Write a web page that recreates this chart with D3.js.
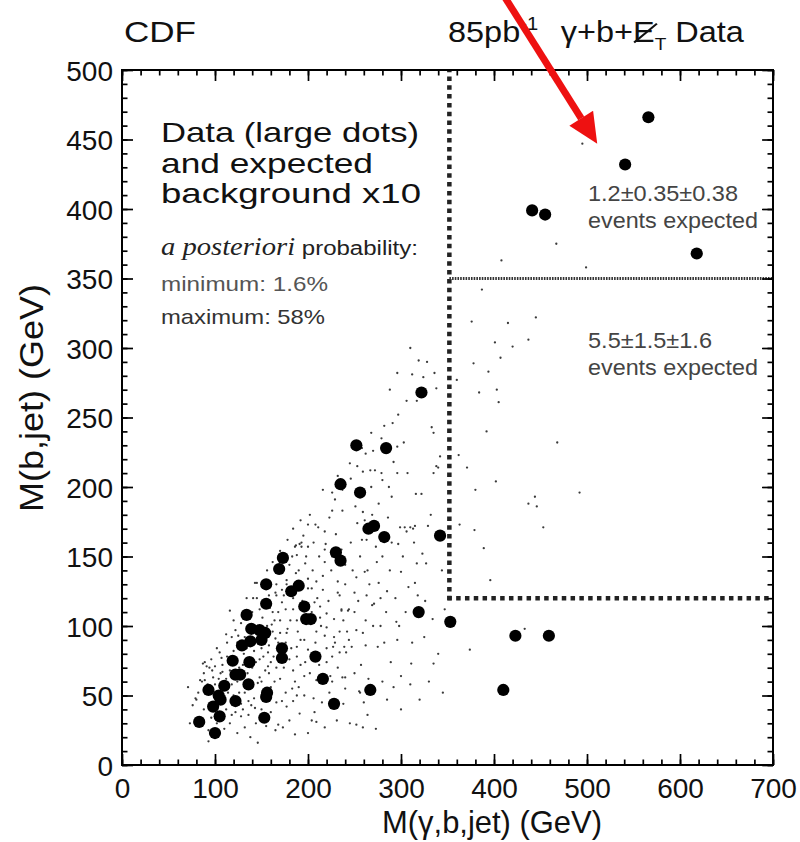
<!DOCTYPE html>
<html>
<head>
<meta charset="utf-8">
<script src="https://cdn.jsdelivr.net/npm/d3@7"></script>
<style>
  body { margin: 0; background: #fff; }
  text { font-family: "Liberation Sans", Arial, Helvetica, sans-serif; }
</style>
</head>
<body>
<script>
(function(){

//data: large dots [M(gamma,b,jet), M(b,jet)] in GeV
var dataPts = [
  [83,31],[93,54],[98,42],[100,23],[104,50],[105,35],[106,47],[110,57],[119,75],[122,65],
  [122,46],[127,65],[129,86],[134,108],[136,58],[137,74],[138,89],[139,98],[148,97],[150,90],
  [153,34],[154,95],[155,130],[155,116],[155,49],[156,52],[169,141],[173,149],[172,84],[172,77],
  [182,125],[190,129],[196,114],[198,105],[203,105],[208,78],[216,62],[228,44],[230,153],[235,147],
  [235,202],[252,230],[256,196],[265,170],[271,172],[282,164],[284,228],[319,110],[322,268],[342,165],
  [353,103],[410,54],[423,93],[459,93],[267,54],[441,399],[455,396],[541,432],[566,466],[618,368]
];

//expected background x10 (small dots)
var bgPts = [
  [495,447],[467,375],[408,363],[499,358],[387,342],[376,319],[415,318],[445,322],[401,304],[420,301],
  [437,306],[407,293],[378,289],[394,283],[360,277],[384,268],[403,270],[405,261],[392,240],[371,214],
  [402,204],[380,198],[492,196],[444,193],[437,188],[446,186],[453,171],[389,156],[396,133],[363,173],
  [379,169],[433,98],[374,83],[468,232],[362,223],
  [297,252],[291,246],[333,243],[335,239],[268,239],[279,235],[303,232],[296,229],[342,222],[262,224],
  [292,218],[253,215],[259,211],[267,212],[272,212],[279,210],[296,210],[307,210],[340,214],[335,210],
  [280,205],[287,200],[290,193],[316,195],[322,195],[251,186],[259,182],[269,180],[253,174],[261,176],
  [313,170],[306,168],[329,172],[297,159],[323,152],[317,145],[327,145],[276,131],[300,139],[261,139],
  [315,131],[252,135],[271,116],[318,122],[244,112],[236,112],[334,105],[347,112],[295,103],[234,96],
  [242,96],[252,97],[259,95],[227,85],[239,85],[247,85],[234,81],[241,81],[257,72],[289,74],
  [311,73],[335,73],[240,63],[285,47],[320,47],[260,45],[252,29],[273,26],[255,53],
  [319,291],[328,290],[312,281],[324,279],[336,282],[338,271],[317,262],[245,217],[232,208],[216,198],
  [226,196],[237,198],[229,191],[226,183],[237,183],[202,180],[211,171],[223,178],[200,173],[218,168],
  [263,162],[273,157],[299,171],[304,171],[310,171],[315,172],[338,215],[187,158],[193,157],[200,157],
  [193,160],[183,150],[218,155],[236,155],
  [208,173],[195,165],[186,157],[191,159],[219,159],[188,151],[197,145],[218,146],[187,138],[177,133],
  [200,134],[209,132],[145,131],[165,124],[204,127],[216,126],[141,120],[159,113],[172,117],[184,112],
  [181,104],[213,114],[116,111],[151,106],[164,104],[194,103],[213,106],[220,99],[141,100],[174,122],
  [143,131],[166,122],[172,126],[177,130],[200,127],[232,124],[250,124],[263,122],[234,122],[207,117],
  [145,120],[120,104],[168,110],[220,109],[236,111],[243,111],[269,115],[122,97],[125,93],[161,101],
  [170,95],[177,95],[165,91],[189,96],[209,96],[218,93],[113,88],[124,88],[157,81],[188,85],
  [200,83],[220,84],[229,88],[105,81],[107,77],[113,78],[148,76],[157,71],[188,78],[197,74],
  [220,74],[226,78],[89,74],[94,70],[100,71],[98,63],[108,67],[148,63],[84,61],[89,61],
  [146,59],[183,55],[188,50],[209,61],[223,52],[237,63],[256,52],[71,56],[79,48],[132,52],
  [139,43],[143,41],[166,45],[177,42],[191,37],[207,38],[209,31],[231,32],[245,30],[259,27],
  [73,30],[93,25],[116,30],[124,23],[132,27],[165,25],[168,29],[173,27],[204,32],[93,17],
  [146,16],[186,22],[200,23],[218,27],[76,43],[87,73],[91,71],[97,68],[86,60],[80,47],
  [112,62],[118,58],[126,70],[131,80],[135,66],[142,82],[146,88],[152,78],[158,86],[162,96],
  [166,70],[170,62],[176,88],[180,76],[184,68],[192,90],[196,64],[118,92],[128,102],[134,120],
  [148,112],[156,140],[162,146],[170,154],[178,162],[184,170],[192,176],[100,58],[106,66],[112,40],
  [118,36],[128,44],[136,36],[150,40],[160,56],[176,52],[184,46],[102,30],[110,26],[128,35],
  [150,60],[140,70],[158,66],[163,78],[145,94],[130,110],[205,140],[212,150],[225,140],[232,132],
  [240,144],[246,160],[256,150],[264,140],[280,150],[290,160],[286,178],[276,188],[268,200],[246,206],
  [258,228],[270,226],[282,244],[306,262],[288,270],[296,282],[310,300],[250,110],[262,104],[278,100],
  [282,88],[296,90],[300,64],[292,56],[312,88],[325,92],[340,80],[305,110],[285,125],[228,105],
  [232,70],[240,55],[265,62],[275,85],[215,45],[196,50],[155,28],[138,20],[180,32],[120,50],[97,52],
  [88,66],[92,58],[96,76],[102,84],[104,62],[108,72],[112,94],[114,52],[116,68],[120,82],
  [124,60],[126,52],[130,72],[132,92],[134,84],[138,60],[140,110],[142,48],[144,74],[146,100],
  [150,84],[152,118],[154,68],[156,100],[158,122],[160,74],[162,110],[164,60],[166,130],[168,88],
  [170,104],[172,138],[174,70],[176,112],[178,98],[180,144],[182,84],[184,120],[186,60],[188,104],
  [190,140],[192,72],[194,118],[196,90],[198,150],[202,66],[204,110],[206,160],[208,88],[210,120],
  [212,72],[214,100],[216,136],[222,118],[224,64],[226,150],[228,92],[230,166],[238,104],[240,130],
  [244,90],[248,140],[254,118],[258,162],[262,86],[266,130],[270,100],[274,146],[278,120],[284,110],
  [288,140],[294,120],[298,100],[302,150],[308,128],[314,160],[326,118],[332,180],[344,140],[110,46],
  [130,40],[144,30],[160,38],[172,46],[190,56],[206,48],[226,60],[250,66],[264,36],[280,60],
  [300,40],[310,58],[330,60],[345,52],[238,44],[122,38],[136,46],[100,40],[96,34],[88,40],[82,52]
];

//signal region boundaries (GeV)
var regionX = 352, regionYlow = 120, regionYhigh = 350;

//text blocks
var upperLabel = ["1.2\u00b10.35\u00b10.38", "events expected"];
var lowerLabel = ["5.5\u00b11.5\u00b11.6", "events expected"];
var boxLines = ["Data (large dots)", "and expected", "background x10"];

//tick values
var xMajor = d3.range(0, 701, 100), xMinor = d3.range(0, 701, 20);
var yMajor = d3.range(0, 501, 50), yMinor = d3.range(0, 501, 10);

//frame dimensions
var width = 800, height = 842,
  left = 122, right = 773, top = 70, bottom = 765;

var x = d3.scaleLinear().domain([0, 700]).range([left, right]);
var y = d3.scaleLinear().domain([0, 500]).range([bottom, top]);

var svg = d3.select("body")
  .append("svg")
  .attr("width", width)
  .attr("height", height);

//stretch a text horizontally to a target width (the original lettering is wide)
function fitWidth(t, w){
  t.attr("textLength", w).attr("lengthAdjust", "spacingAndGlyphs");
  return t;
}

//background dots
svg.append("g")
  .selectAll("circle")
  .data(bgPts)
  .enter()
  .append("circle")
  .attr("cx", function(d){ return x(d[0]); })
  .attr("cy", function(d){ return y(d[1]); })
  .attr("r", 1.15)
  .attr("fill", "#3a3a3a");

//dotted region lines
svg.append("line")
  .attr("x1", x(regionX)).attr("x2", x(regionX))
  .attr("y1", y(regionYlow) + 2).attr("y2", y(500))
  .attr("stroke", "#222").attr("stroke-width", 4.5)
  .attr("stroke-dasharray", "4.5,4.3");
svg.append("line")
  .attr("x1", x(regionX) - 2).attr("x2", x(700))
  .attr("y1", y(regionYlow)).attr("y2", y(regionYlow))
  .attr("stroke", "#222").attr("stroke-width", 4.5)
  .attr("stroke-dasharray", "4.5,4.3");
svg.append("line")
  .attr("x1", x(regionX)).attr("x2", x(700))
  .attr("y1", y(regionYhigh)).attr("y2", y(regionYhigh))
  .attr("stroke", "#333").attr("stroke-width", 3)
  .attr("stroke-dasharray", "1.6,1.1");

//data dots
svg.append("g")
  .selectAll("circle")
  .data(dataPts)
  .enter()
  .append("circle")
  .attr("cx", function(d){ return x(d[0]); })
  .attr("cy", function(d){ return y(d[1]); })
  .attr("r", 6.1)
  .attr("fill", "#000");

//axes, ticks pointing inward
function drawAxis(axis, vals, size, tr, labels, pad){
  var g = svg.append("g")
    .attr("transform", tr)
    .call(axis.tickValues(vals).tickSize(-size).tickPadding(pad || 14)
      .tickFormat(labels ? d3.format("d") : ""));
  g.select(".domain").remove();
  g.selectAll(".tick line").attr("stroke", "#000").attr("stroke-width", 1.7);
  g.selectAll(".tick text")
    .attr("font-size", 28)
    .attr("fill", "#111")
    .style("font-family", "'Liberation Sans', Arial, sans-serif");
  return g;
}

drawAxis(d3.axisBottom(x), xMinor, 5.5, "translate(0," + bottom + ")", false);
drawAxis(d3.axisBottom(x), xMajor, 11, "translate(0," + bottom + ")", true, 13);
drawAxis(d3.axisTop(x), xMinor, 5.5, "translate(0," + top + ")", false);
drawAxis(d3.axisTop(x), xMajor, 11, "translate(0," + top + ")", false);
drawAxis(d3.axisLeft(y), yMinor, 5.5, "translate(" + left + ",0)", false);
drawAxis(d3.axisLeft(y), yMajor, 11, "translate(" + left + ",0)", true, 9)
  .selectAll(".tick text").attr("dy", "0.36em");
drawAxis(d3.axisRight(y), yMinor, 5.5, "translate(" + right + ",0)", false);
drawAxis(d3.axisRight(y), yMajor, 11, "translate(" + right + ",0)", false);

//frame
svg.append("rect")
  .attr("x", left).attr("y", top)
  .attr("width", right - left).attr("height", bottom - top)
  .attr("fill", "none").attr("stroke", "#000").attr("stroke-width", 2);

//axis titles
fitWidth(svg.append("text")
  .attr("x", 492).attr("y", 833)
  .attr("text-anchor", "middle")
  .attr("font-size", 32)
  .attr("fill", "#111")
  .text("M(\u03b3,b,jet) (GeV)"), 220);

fitWidth(svg.append("text")
  .attr("transform", "translate(43,398) rotate(-90)")
  .attr("text-anchor", "middle")
  .attr("font-size", 34)
  .attr("fill", "#111")
  .text("M(b,jet) (GeV)"), 228);

//header
fitWidth(svg.append("text")
  .attr("x", 124).attr("y", 42)
  .attr("font-size", 29)
  .attr("fill", "#111")
  .text("CDF"), 72);

var head = svg.append("text")
  .attr("font-size", 29)
  .attr("fill", "#111");
head.append("tspan").text("85pb");
head.append("tspan").attr("dy", -12).attr("font-size", 18).text("-1");
head.append("tspan").attr("dy", 12).text("\u2002\u2009\u03b3+b+E");
head.append("tspan").attr("dy", 8).attr("font-size", 17).text("T");
head.append("tspan").attr("dy", -8).text(" Data");
var headW = head.node().getBBox().width, headS = 297 / headW;
head.attr("transform", "translate(448,42) scale(" + headS + ",1)");

//slash through the E of missing Et
var full = head.node().textContent;
var eBox = head.node().getExtentOfChar(full.indexOf("E"));
svg.append("line")
  .attr("transform", "translate(448,42) scale(" + headS + ",1)")
  .attr("x1", eBox.x + 1).attr("y1", eBox.y + eBox.height - 6)
  .attr("x2", eBox.x + eBox.width + 2).attr("y2", eBox.y + 8)
  .attr("stroke", "#111").attr("stroke-width", 2);

//legend box text
var boxW = [258, 212, 260];
svg.append("g")
  .selectAll("text")
  .data(boxLines)
  .enter()
  .append("text")
  .attr("x", 161)
  .attr("y", function(d, i){ return 142 + i * 30.5; })
  .attr("font-size", 28.5)
  .attr("fill", "#111")
  .attr("textLength", function(d, i){ return boxW[i]; })
  .attr("lengthAdjust", "spacingAndGlyphs")
  .text(function(d){ return d; });

var post = svg.append("text")
  .attr("font-size", 21)
  .attr("fill", "#222");
post.append("tspan")
  .style("font-family", "'Liberation Serif', 'Times New Roman', serif")
  .attr("font-style", "italic")
  .attr("font-size", 25)
  .text("a posteriori");
post.append("tspan").text(" probability:");
post.attr("transform", "translate(161,255) scale(" + (257 / post.node().getBBox().width) + ",1)");

fitWidth(svg.append("text")
  .attr("x", 161).attr("y", 291)
  .attr("font-size", 21).attr("fill", "#555")
  .text("minimum: 1.6%"), 167);
fitWidth(svg.append("text")
  .attr("x", 161).attr("y", 324)
  .attr("font-size", 21).attr("fill", "#333")
  .text("maximum: 58%"), 164);

//region labels
function regionLabel(lines, yBase, widths){
  svg.append("g")
    .selectAll("text")
    .data(lines)
    .enter()
    .append("text")
    .attr("x", 588)
    .attr("y", function(d, i){ return yBase + i * 27; })
    .attr("font-size", 21.5)
    .attr("fill", "#444")
    .attr("textLength", function(d, i){ return widths[i]; })
    .attr("lengthAdjust", "spacingAndGlyphs")
    .text(function(d){ return d; });
}
regionLabel(upperLabel, 201, [150, 170]);
regionLabel(lowerLabel, 348, [124, 170]);

//red arrow pointing at the upper region
var arrowFrom = [412, 552], arrowTo = [511, 447];
var ax0 = x(arrowFrom[0]), ay0 = y(arrowFrom[1]),
  ax1 = x(arrowTo[0]), ay1 = y(arrowTo[1]);
var ang = Math.atan2(ay1 - ay0, ax1 - ax0),
  headLen = 30, headHalf = 14;
var bx = ax1 - headLen * Math.cos(ang), by = ay1 - headLen * Math.sin(ang);
svg.append("line")
  .attr("x1", ax0).attr("y1", ay0)
  .attr("x2", bx).attr("y2", by)
  .attr("stroke", "#ee1111").attr("stroke-width", 7);
svg.append("path")
  .attr("d", "M" + ax1 + "," + ay1 +
    "L" + (bx + headHalf * Math.sin(ang)) + "," + (by - headHalf * Math.cos(ang)) +
    "L" + (bx - headHalf * Math.sin(ang)) + "," + (by + headHalf * Math.cos(ang)) + "Z")
  .attr("fill", "#ee1111");

})();
</script>
</body>
</html>
